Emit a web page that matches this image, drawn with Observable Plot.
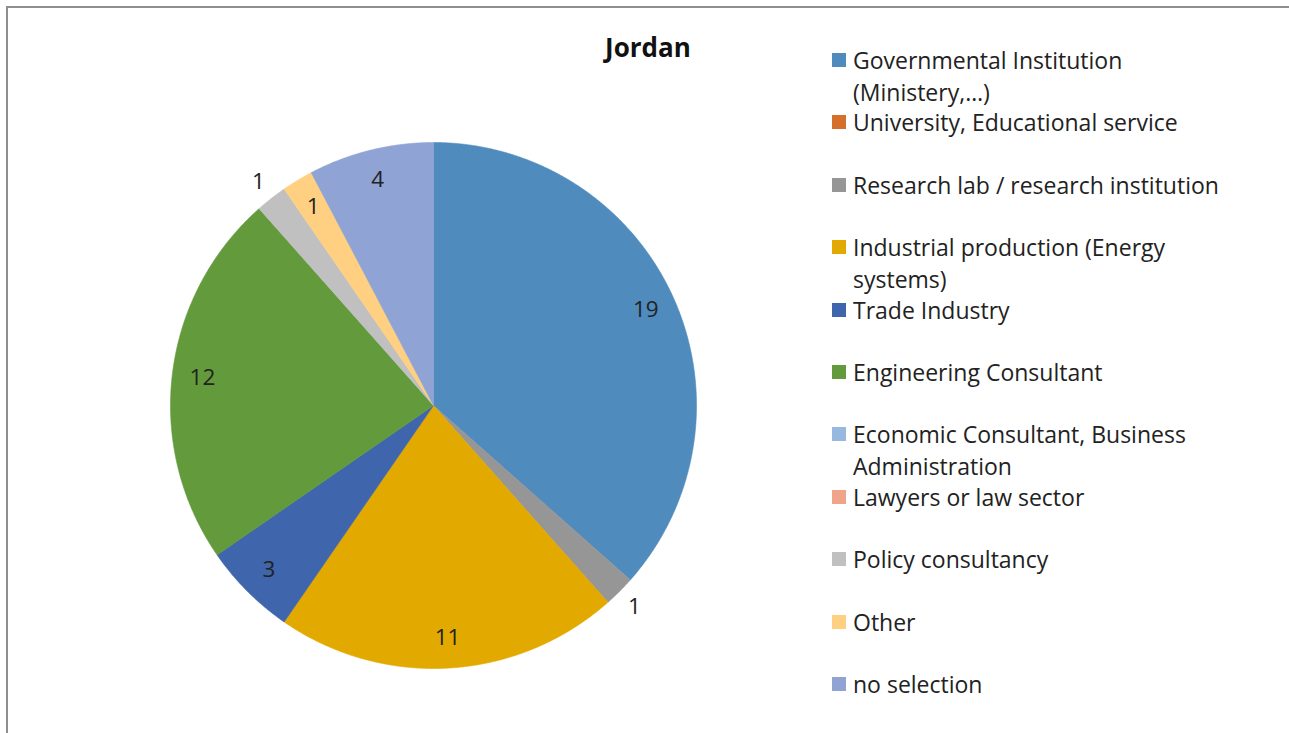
<!DOCTYPE html>
<html>
<head>
<meta charset="utf-8">
<script src="https://cdn.jsdelivr.net/npm/d3@7"></script>
<script src="https://cdn.jsdelivr.net/npm/@observablehq/plot@0.6"></script>
<style>
  html, body { margin: 0; padding: 0; background: #fff; }
  body { width: 1289px; height: 733px; position: relative; overflow: hidden; font-family: "Open Sans", Lato, sans-serif; color: #222; }
  #frame { position: absolute; left: 6px; top: 6px; width: 1300px; height: 740px; border-top: 2px solid #8e8e8e; border-left: 2px solid #8e8e8e; }
  #chart { position: absolute; left: 0; top: 0; }
  #title { position: absolute; left: 548px; width: 200px; top: 30px; text-align: center; font-weight: bold; font-size: 26px; line-height: 34px; color: #111; }
  #legend { position: absolute; left: 832px; top: 0; width: 440px; }
  .item { position: absolute; left: 0; width: 440px; font-size: 23px; line-height: 32px; }
  .sw { position: absolute; left: 0; top: 9px; width: 14px; height: 14px; }
  .lab { position: absolute; left: 21px; top: 0; width: 420px; white-space: nowrap; }
</style>
</head>
<body>
<div id="frame"></div>
<div id="chart"></div>
<div id="title">Jordan</div>
<div id="legend"></div>
<script>
const categories = [
  "Governmental Institution (Ministery,…)",
  "University, Educational service",
  "Research lab / research institution",
  "Industrial production (Energy systems)",
  "Trade Industry",
  "Engineering Consultant",
  "Economic Consultant, Business Administration",
  "Lawyers or law sector",
  "Policy consultancy",
  "Other",
  "no selection"
];
const legendLines = [
  ["Governmental Institution", "(Ministery,…)"],
  ["University, Educational service"],
  ["Research lab / research institution"],
  ["Industrial production (Energy", "systems)"],
  ["Trade Industry"],
  ["Engineering Consultant"],
  ["Economic Consultant, Business", "Administration"],
  ["Lawyers or law sector"],
  ["Policy consultancy"],
  ["Other"],
  ["no selection"]
];
const values = [19, 0, 1, 11, 3, 12, 0, 0, 1, 1, 4];
const colors = ["#508bbe", "#d4702a", "#969696", "#e2aa00", "#3f65ac", "#639a3c", "#97b9e0", "#f0a58a", "#c0c0c0", "#ffd082", "#8fa3d4"];

// slices whose value label sits outside the pie
const outside = new Set(["Research lab / research institution", "Policy consultancy"]);

const arcs = d3.pie().sort(null).value(d => d.value)(categories.map((c, i) => ({cat: c, value: values[i]})));

const pts = [];
const labels = [];
for (const a of arcs) {
  if (a.data.value === 0) continue;
  const n = Math.max(4, Math.ceil((a.endAngle - a.startAngle) / 0.005));
  pts.push({cat: a.data.cat, x: 0, y: 0});
  for (let k = 0; k <= n; k++) {
    const t = a.startAngle + (a.endAngle - a.startAngle) * k / n;
    pts.push({cat: a.data.cat, x: Math.sin(t), y: Math.cos(t)});
  }
  pts.push({cat: a.data.cat, x: 0, y: 0});
  const m = (a.startAngle + a.endAngle) / 2;
  const r = outside.has(a.data.cat) ? 1.08 : 0.885;
  labels.push({x: r * Math.sin(m), y: r * Math.cos(m), text: String(a.data.value)});
}

const plot = Plot.plot({
  width: 1289,
  height: 733,
  marginLeft: 170,
  marginRight: 1289 - 696,
  marginTop: 142,
  marginBottom: 733 - 668,
  x: {domain: [-1, 1], axis: null},
  y: {domain: [-1, 1], axis: null},
  color: {domain: categories, range: colors},
  style: {background: "transparent", overflow: "visible"},
  marks: [
    Plot.line(pts, {x: "x", y: "y", z: "cat", fill: "cat", stroke: "cat", strokeWidth: 0.6, curve: "linear"}),
    Plot.text(labels, {x: "x", y: "y", text: "text", fontSize: 22.5, fill: "#222", fontFamily: "'Open Sans', Lato, sans-serif"})
  ]
});
document.getElementById("chart").appendChild(plot);

const legend = document.getElementById("legend");
categories.forEach((c, i) => {
  const item = document.createElement("div");
  item.className = "item";
  item.style.top = (44 + i * 62.4) + "px";
  const sw = document.createElement("div");
  sw.className = "sw";
  sw.style.background = colors[i];
  const lab = document.createElement("div");
  lab.className = "lab";
  lab.innerHTML = legendLines[i].join("<br>");
  item.appendChild(sw);
  item.appendChild(lab);
  legend.appendChild(item);
});
</script>
</body>
</html>
